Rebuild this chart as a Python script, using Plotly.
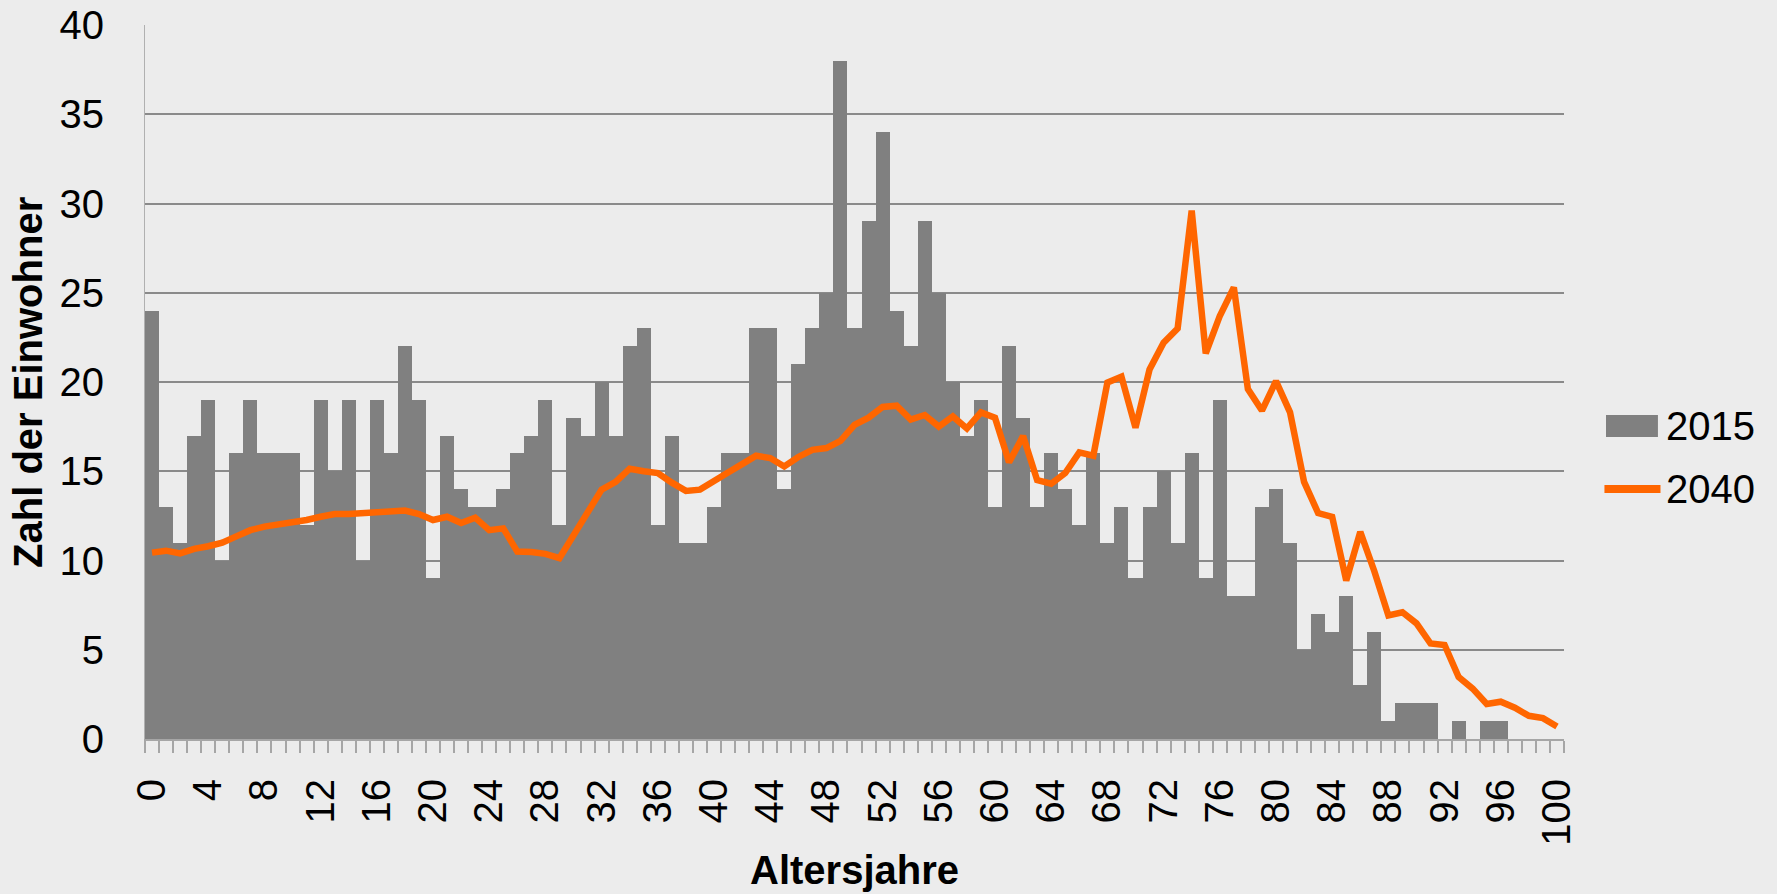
import plotly.graph_objs as go

# Altersjahre 0..100
ages = list(range(0, 101))

# Zahl der Einwohner 2015 (Balken)
einwohner_2015 = [
    24, 13, 11, 17, 19, 10, 16, 19, 16, 16,
    16, 12, 19, 15, 19, 10, 19, 16, 22, 19,
    9, 17, 14, 13, 13, 14, 16, 17, 19, 12,
    18, 17, 20, 17, 22, 23, 12, 17, 11, 11,
    13, 16, 16, 23, 23, 14, 21, 23, 25, 38,
    23, 29, 34, 24, 22, 29, 25, 20, 17, 19,
    13, 22, 18, 13, 16, 14, 12, 16, 11, 13,
    9, 13, 15, 11, 16, 9, 19, 8, 8, 13,
    14, 11, 5, 7, 6, 8, 3, 6, 1, 2,
    2, 2, 0, 1, 0, 1, 1, 0, 0, 0, 0,
]

# Prognose 2040 (Linie)
einwohner_2040 = [
    10.44, 10.55, 10.4, 10.65, 10.8, 11.0, 11.35, 11.7, 11.9, 12.0,
    12.1, 12.27, 12.45, 12.6, 12.6, 12.65, 12.7, 12.74, 12.8, 12.6,
    12.27, 12.45, 12.1, 12.4, 11.7, 11.8, 10.5, 10.47, 10.37, 10.13,
    11.36, 12.66, 13.97, 14.4, 15.14, 15.0, 14.9, 14.36, 13.9, 13.97,
    14.5, 14.93, 15.4, 15.87, 15.74, 15.27, 15.8, 16.2, 16.3, 16.7,
    17.6, 18.0, 18.6, 18.67, 17.9, 18.15, 17.5, 18.07, 17.4, 18.3,
    18.0, 15.5, 16.97, 14.5, 14.3, 14.9, 16.06, 15.87, 19.97, 20.3,
    17.44, 20.7, 22.2, 23.0, 29.6, 21.6, 23.7, 25.3, 19.6, 18.4,
    20.05, 18.3, 14.4, 12.66, 12.45, 8.88, 11.6, 9.4, 6.92, 7.1,
    6.48, 5.35, 5.27, 3.47, 2.82, 1.96, 2.09, 1.75, 1.3, 1.17, 0.7,
]

x_labels = list(range(0, 101, 4))

FONT = "Liberation Sans, Arial, sans-serif"
BG = "#ececec"
BAR_COLOR = "#808080"
LINE_COLOR = "#ff6600"

fig = go.Figure()
fig.add_trace(
    go.Bar(
        x=ages,
        y=einwohner_2015,
        name="2015",
        marker=dict(color=BAR_COLOR, line=dict(width=0)),
        showlegend=False,
    )
)
fig.add_trace(
    go.Scatter(
        x=ages,
        y=einwohner_2040,
        name="2040",
        mode="lines",
        line=dict(color=LINE_COLOR, width=6.5),
        showlegend=False,
    )
)

# legend drawn by hand so the keys get the reference's size
fig.add_shape(type="rect", xref="paper", yref="paper",
              x0=1.0296, x1=1.0662, y0=0.423, y1=0.4538,
              fillcolor=BAR_COLOR, line=dict(width=0))
fig.add_shape(type="line", xref="paper", yref="paper",
              x0=1.0285, x1=1.068, y0=0.350, y1=0.350,
              line=dict(color=LINE_COLOR, width=8))
fig.add_annotation(text="2015", xref="paper", yref="paper", x=1.0705, y=0.4384,
                   xanchor="left", yanchor="middle", showarrow=False,
                   font=dict(size=40))
fig.add_annotation(text="2040", xref="paper", yref="paper", x=1.0705, y=0.350,
                   xanchor="left", yanchor="middle", showarrow=False,
                   font=dict(size=40))

# axis titles
fig.add_annotation(text="<b>Altersjahre</b>", xref="paper", yref="paper",
                   x=0.5, y=-0.1835, xanchor="center", yanchor="middle",
                   showarrow=False, font=dict(size=40))
fig.add_annotation(text="<b>Zahl der Einwohner</b>", xref="paper", yref="paper",
                   x=-0.0825, y=0.5, xanchor="center", yanchor="middle",
                   textangle=-90, showarrow=False, font=dict(size=40))

fig.update_layout(
    width=1777,
    height=894,
    paper_bgcolor=BG,
    plot_bgcolor=BG,
    bargap=0,
    margin=dict(l=145, r=213, t=25, b=155, autoexpand=False),
    font=dict(family=FONT, size=40, color="black"),
    showlegend=False,
)

fig.update_xaxes(
    range=[-0.5, 100.5],
    tickmode="array",
    tickvals=x_labels,
    ticktext=[str(v) for v in x_labels],
    tickangle=-90,
    ticks="outside",
    ticklen=12,
    tickcolor="rgba(0,0,0,0)",
    ticklabelstandoff=10,
    minor=dict(
        tickmode="array",
        tickvals=[v - 0.5 for v in ages] + [100.5],
        ticks="outside",
        ticklen=12,
        tickcolor="#a6a6a6",
        tickwidth=2,
    ),
    showline=True,
    linecolor="#a6a6a6",
    linewidth=2,
    showgrid=False,
    automargin=False,
)

fig.update_yaxes(
    range=[0, 40],
    dtick=5,
    showgrid=True,
    gridcolor="#8a8a8a",
    gridwidth=1.5,
    zeroline=False,
    showline=True,
    linecolor="#b0b0b0",
    linewidth=1,
    ticks="",
    ticklabelstandoff=32,
    automargin=False,
)

fig.write_html(
    "out.html",
    config={"displayModeBar": False},
    post_script="document.body.style.margin='0px';",
)
